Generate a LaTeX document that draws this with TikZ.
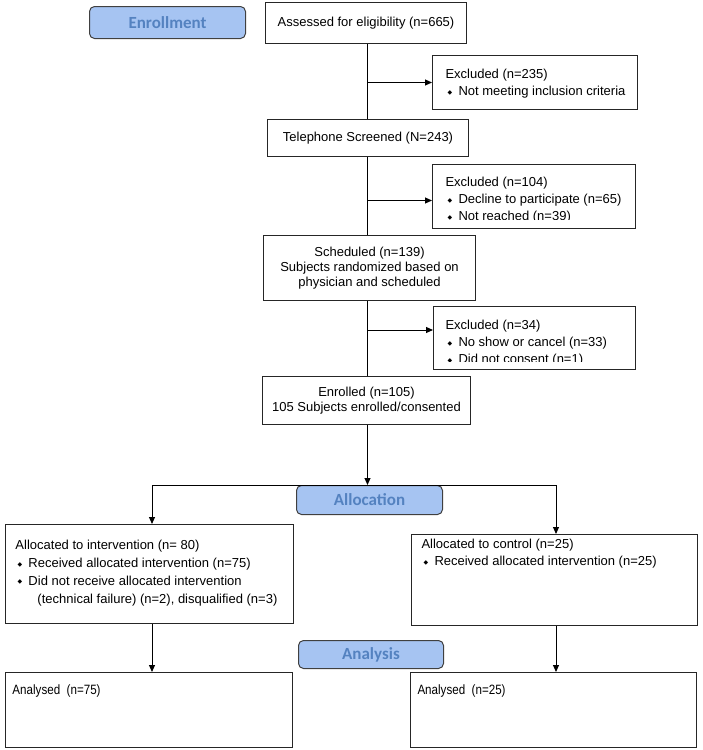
\documentclass[tikz,border=0pt]{standalone}
\usepackage{fontspec}
\setmainfont{Liberation Sans}
\newfontfamily\pillfont{Carlito}
\newfontfamily\symfont{DejaVu Sans}
\newfontfamily\narrowfont[FakeStretch=0.86]{Liberation Sans}
\usetikzlibrary{arrows.meta}
\definecolor{pillblue}{RGB}{166,196,242}
\definecolor{pillink}{RGB}{84,130,192}
\newcommand{\bul}{\makebox[13pt][l]{\hspace{2pt}\raisebox{1.5pt}{\symfont\fontsize{6}{6}\selectfont ◆}}}
\begin{document}
\begin{tikzpicture}[x=1pt,y=-1pt,line width=1pt,
  box/.style={draw=black!85,rectangle,inner sep=0pt,anchor=north west,align=center,font=\fontsize{13}{15}\selectfont},
  pill/.style={draw=black!75,fill=pillblue,rounded corners=5pt,inner sep=0pt,anchor=north west,font=\pillfont\bfseries\fontsize{17}{17}\selectfont,text=pillink},
  txt/.style={inner sep=0pt,anchor=north west,align=left,font=\fontsize{13}{16.8}\selectfont},
  arr/.style={-{Triangle[length=7pt,width=6pt]}}]
  \useasboundingbox (0,0) rectangle (702,750);

  % stage labels
  \node[pill,minimum width=156pt,minimum height=32pt] (penrol) at (89,6) {Enrollment};
  \node[pill,minimum width=146pt,minimum height=29pt] (palloc) at (296,485) {Allocation};
  \node[pill,minimum width=145pt,minimum height=28pt] (pana) at (298,640) {Analysis};

  % main column
  \node[box,minimum width=201pt,minimum height=41pt] (assess) at (265,2) {Assessed for eligibility (n=665)};
  \node[box,minimum width=201pt,minimum height=37pt] (phone) at (267,119) {Telephone Screened (N=243)};
  \node[box,minimum width=212pt,minimum height=65pt] (sched) at (263,235) {Scheduled (n=139)\\Subjects randomized based on\\physician and scheduled};
  \node[box,minimum width=208pt,minimum height=48pt] (enrol) at (262,376) {Enrolled (n=105)\\105 Subjects enrolled/consented};
  \coordinate (spine) at (367.5,0);

  % exclusions
  \node[box,minimum width=205pt,minimum height=54pt] (excl1) at (432,55) {};
  \node[txt] (t1) at (445,69) {Excluded (n=235)\\\bul Not meeting inclusion criteria};
  \node[box,minimum width=203pt,minimum height=64pt] (excl2) at (432,164) {};
  \begin{scope}
    \clip (excl2.north west) rectangle ([yshift=10pt]excl2.south east);
    \node[txt] (t2) at (445,177) {Excluded (n=104)\\\bul Decline to participate (n=65)\\\bul Not reached (n=39)};
  \end{scope}
  \node[box,minimum width=202pt,minimum height=63pt] (excl3) at (433,306) {};
  \begin{scope}
    \clip (excl3.north west) rectangle ([yshift=9pt]excl3.south east);
    \node[txt] (t3) at (445,320) {Excluded (n=34)\\\bul No show or cancel (n=33)\\\bul Did not consent (n=1)};
  \end{scope}

  % arms
  \node[box,minimum width=288pt,minimum height=99pt] (intv) at (5,524) {};
  \node[txt,font=\fontsize{13}{17.7}\selectfont] (t4) at (15,540) {Allocated to intervention (n= 80)\\\bul Received allocated intervention (n=75)\\\bul Did not receive allocated intervention\\\hspace*{22pt}(technical failure) (n=2), disqualified (n=3)};
  \node[box,minimum width=286pt,minimum height=91pt] (ctrl) at (411,534) {};
  \node[txt] (t5) at (421,539) {Allocated to control (n=25)\\\bul Received allocated intervention (n=25)};
  \node[box,minimum width=287pt,minimum height=75pt] (ana1) at (5,672) {};
  \node[txt,font=\narrowfont\fontsize{13.5}{16}\selectfont] (t6) at (12,684) {Analysed\ \ (n=75)};
  \node[box,minimum width=286pt,minimum height=75pt] (ana2) at (410,672) {};
  \node[txt,font=\narrowfont\fontsize{13.5}{16}\selectfont] (t7) at (417,684) {Analysed\ \ (n=25)};

  \coordinate (splitL) at (152,485);
  \coordinate (splitR) at (556,485);

  % connectors
  \draw (assess.south -| spine) -- (phone.north -| spine);
  \draw (phone.south -| spine) -- (sched.north -| spine);
  \draw (sched.south -| spine) -- (enrol.north -| spine);
  \draw[arr] (spine |- excl1.west) -- (excl1.west);
  \draw[arr] ([yshift=-4pt]spine |- excl2.west) -- ([yshift=-4pt]excl2.west);
  \draw[arr] ([yshift=8pt]spine |- excl3.west) -- ([yshift=8pt]excl3.west);
  \draw[arr] (enrol.south -| spine) -- (palloc.north -| spine);
  \draw (splitL) -- (splitR);
  \draw[arr] (splitL) -- (splitL |- intv.north);
  \draw[arr] (splitR) -- (splitR |- ctrl.north);
  \draw[arr] (splitL |- intv.south) -- (splitL |- ana1.north);
  \draw[arr] (splitR |- ctrl.south) -- (splitR |- ana2.north);
\end{tikzpicture}
\end{document}
